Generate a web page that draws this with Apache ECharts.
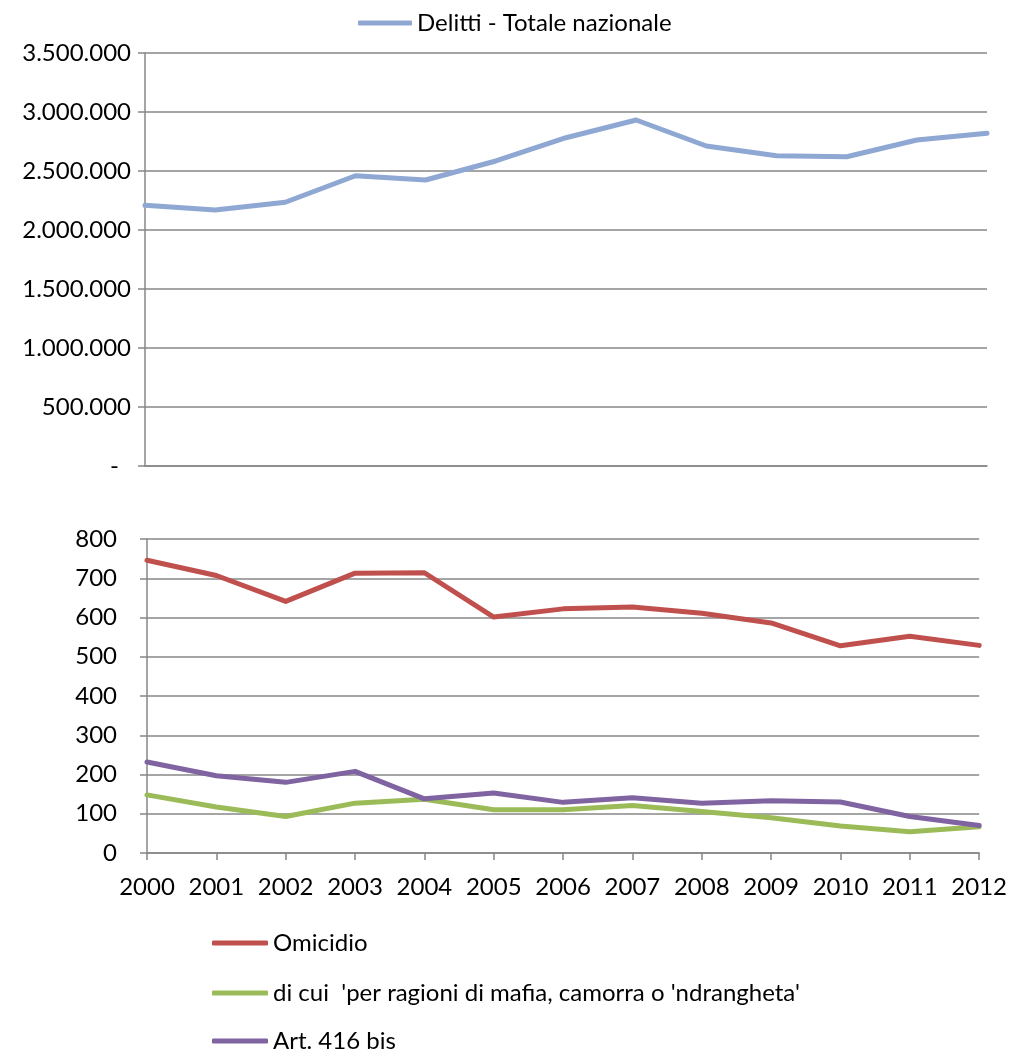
<!DOCTYPE html>
<html>
<head>
<meta charset="utf-8">
<script src="https://cdn.jsdelivr.net/npm/echarts@6/dist/echarts.min.js"></script>
<style>
html,body{margin:0;padding:0;background:#fff;}
#chart{width:1010px;height:1052px;}
</style>
</head>
<body>
<div id="chart"></div>
<script>
var years = ['2000','2001','2002','2003','2004','2005','2006','2007','2008','2009','2010','2011','2012'];
var delitti = [2209000, 2169000, 2235000, 2460000, 2424000, 2585000, 2782000, 2932000, 2712000, 2630000, 2621000, 2763000, 2819000];
var omicidio = [746, 707, 641, 713, 714, 601, 622, 627, 611, 586, 528, 552, 529];
var mafia = [148, 117, 93, 127, 137, 110, 110, 121, 106, 90, 69, 54, 67];
var art416 = [232, 197, 180, 208, 138, 153, 129, 141, 127, 133, 130, 93, 70];

var names = ['Delitti - Totale nazionale', 'Omicidio', "di cui  'per ragioni di mafia, camorra o 'ndrangheta'", 'Art. 416 bis'];
var colors = ['#8EA8D3', '#C0504D', '#9BBB59', '#8064A2'];

var FONT = 'Lato';
var FS = 24;
var gridColor = '#878787';

function itFmt(v) {
  return String(v).replace(/\B(?=(\d{3})+(?!\d))/g, '.');
}

var chart = echarts.init(document.getElementById('chart'), null, {renderer: 'canvas'});

function lineSeries(name, data, color, idx) {
  return {
    name: name, type: 'line', data: data,
    xAxisIndex: idx, yAxisIndex: idx,
    symbol: 'none', showSymbol: false,
    lineStyle: {color: color, width: 5, cap: 'round', join: 'round'},
    itemStyle: {color: color},
    emphasis: {disabled: true},
    animation: false
  };
}

function legendAt(name, left, top, w) {
  return {
    data: [name], left: left, top: top, padding: 0,
    icon: 'roundRect', itemWidth: w, itemHeight: 5, itemGap: 0,
    textStyle: {fontFamily: FONT, fontSize: FS, color: '#000', lineHeight: 28}
  };
}

var option = {
  animation: false,
  textStyle: {fontFamily: FONT, color: '#000'},
  legend: [
    legendAt(names[0], 358, 9, 54),
    legendAt(names[1], 212, 929, 56),
    legendAt(names[2], 212, 979, 56),
    legendAt(names[3], 212, 1027, 56)
  ],
  grid: [
    {left: 145, right: 23, top: 53, height: 413},
    {left: 147, right: 27, top: 539, height: 314}
  ],
  xAxis: [
    {
      type: 'category', data: years, gridIndex: 0, boundaryGap: false,
      axisLine: {lineStyle: {color: gridColor, width: 1.5}},
      axisTick: {show: false}, axisLabel: {show: false}, splitLine: {show: false}
    },
    {
      type: 'category', data: years, gridIndex: 1, boundaryGap: false,
      axisLine: {lineStyle: {color: gridColor, width: 1.5}},
      axisTick: {show: true, interval: 0, length: 7, lineStyle: {color: gridColor, width: 1.5}},
      axisLabel: {fontFamily: FONT, fontSize: FS, color: '#000', margin: 22, interval: 0, hideOverlap: false},
      splitLine: {show: false}
    }
  ],
  yAxis: [
    {
      type: 'value', gridIndex: 0, min: 0, max: 3500000, interval: 500000,
      axisLine: {show: true, lineStyle: {color: gridColor, width: 1.5}},
      axisTick: {show: true, length: 7, lineStyle: {color: gridColor, width: 1.5}},
      axisLabel: {
        fontFamily: FONT, fontSize: FS, color: '#000', margin: 14,
        formatter: function (v) { return v === 0 ? '{z|-}' : itFmt(v); },
        rich: {z: {fontFamily: FONT, fontSize: FS, color: '#000', padding: [0, 12, 0, 0]}}
      },
      splitLine: {show: true, lineStyle: {color: gridColor, width: 1.5}}
    },
    {
      type: 'value', gridIndex: 1, min: 0, max: 800, interval: 100,
      axisLine: {show: true, lineStyle: {color: gridColor, width: 1.5}},
      axisTick: {show: true, length: 7, lineStyle: {color: gridColor, width: 1.5}},
      axisLabel: {fontFamily: FONT, fontSize: FS, color: '#000', margin: 30},
      splitLine: {show: true, lineStyle: {color: gridColor, width: 1.5}}
    }
  ],
  series: [
    lineSeries(names[0], delitti, colors[0], 0),
    lineSeries(names[1], omicidio, colors[1], 1),
    lineSeries(names[2], mafia, colors[2], 1),
    lineSeries(names[3], art416, colors[3], 1)
  ]
};
chart.setOption(option);
</script>
</body>
</html>
